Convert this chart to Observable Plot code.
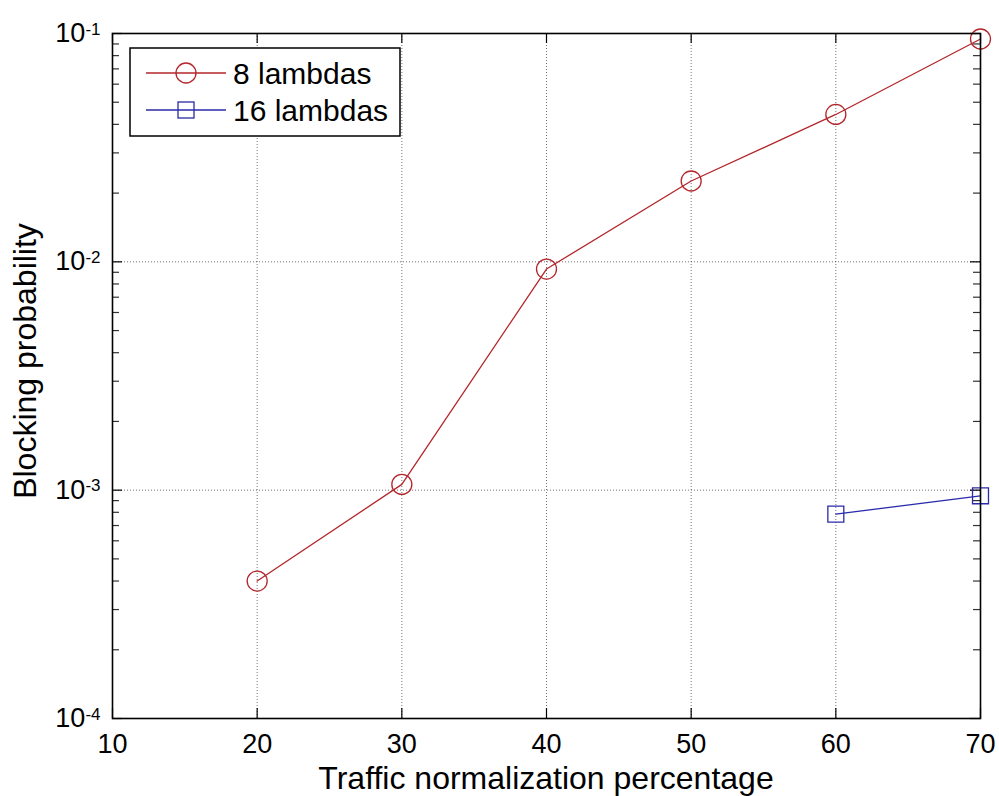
<!DOCTYPE html>
<html>
<head>
<meta charset="utf-8">
<script src="https://cdn.jsdelivr.net/npm/d3@7"></script>
<script src="https://cdn.jsdelivr.net/npm/@observablehq/plot@0.6"></script>
<style>
  html, body { margin: 0; padding: 0; background: #fff; }
  #wrap { position: relative; width: 999px; height: 796px; font-family: "Liberation Sans", Arial, sans-serif; }
</style>
</head>
<body>
<div id="wrap"></div>
<script>
// ---- data ----
const traffic8 = [20, 30, 40, 50, 60, 70];
const block8 = [4.0e-4, 1.06e-3, 9.3e-3, 0.0226, 0.0442, 0.0946];
const traffic16 = [60, 70];
const block16 = [7.85e-4, 9.45e-4];
const seriesNames = ["8 lambdas", "16 lambdas"];
const xTicks = [10, 20, 30, 40, 50, 60, 70];
const yTicks = [1e-4, 1e-3, 1e-2, 1e-1];
const yTickExp = ["-4", "-3", "-2", "-1"];
const xLabel = "Traffic normalization percentage";
const yLabel = "Blocking probability";

const RED = "#b3262b", BLUE = "#2a2aaa";
const W = 999, H = 796, ML = 112, MR = 19, MT = 33, MB = 78;
const PW = W - ML - MR, PH = H - MT - MB;

const minor = [];
for (let e = -4; e < -1; e++) for (let m = 2; m <= 9; m++) minor.push(m * Math.pow(10, e));

const d8 = traffic8.map((x, i) => ({x, y: block8[i]}));
const d16 = traffic16.map((x, i) => ({x, y: block16[i]}));

const plot = Plot.plot({
  width: W, height: H,
  marginLeft: ML, marginRight: MR, marginTop: MT, marginBottom: MB,
  style: {fontFamily: "Liberation Sans, Arial, sans-serif", color: "#000", background: "#fff"},
  x: {domain: [10, 70]},
  y: {type: "log", domain: [1e-4, 1e-1]},
  marks: [
    Plot.gridX(xTicks, {stroke: "#000", strokeOpacity: 0.55, strokeDasharray: "1,2", strokeWidth: 1}),
    Plot.gridY(yTicks, {stroke: "#000", strokeOpacity: 0.55, strokeDasharray: "1,2", strokeWidth: 1}),
    Plot.tickY(minor, {y: d => d, insetRight: PW - 7, stroke: "#333", strokeWidth: 1.2}),
    Plot.tickY(minor, {y: d => d, insetLeft: PW - 7, stroke: "#333", strokeWidth: 1.2}),
    Plot.tickY(yTicks, {y: d => d, insetRight: PW - 10, stroke: "#000", strokeWidth: 1.2}),
    Plot.tickY(yTicks, {y: d => d, insetLeft: PW - 10, stroke: "#000", strokeWidth: 1.2}),
    Plot.tickX(xTicks, {x: d => d, insetTop: PH - 10, stroke: "#000", strokeWidth: 1.2}),
    Plot.tickX(xTicks, {x: d => d, insetBottom: PH - 10, stroke: "#000", strokeWidth: 1.2}),
    Plot.axisX(xTicks, {tickSize: 0, tickPadding: 15, label: null}),
    Plot.axisY(yTicks, {tickSize: 0, tickPadding: 12, label: null, tickFormat: () => "10"}),
    Plot.lineY(d8, {x: "x", y: "y", stroke: RED, strokeWidth: 1.3}),
    Plot.dot(d8, {x: "x", y: "y", r: 10, stroke: RED, strokeWidth: 1.3, fill: "none"}),
    Plot.lineY(d16, {x: "x", y: "y", stroke: BLUE, strokeWidth: 1.3}),
    Plot.dot(d16, {x: "x", y: "y", r: 9, symbol: "square", stroke: BLUE, strokeWidth: 1.3, fill: "none"}),
    Plot.frame({stroke: "#000", strokeWidth: 1.6})
  ]
});

const wrap = document.getElementById("wrap");
wrap.appendChild(plot);
const svg = d3.select(plot);

// tick label sizes
svg.selectAll('g[aria-label="x-axis tick label"]').attr("font-size", "27px");
svg.selectAll('g[aria-label="y-axis tick label"]').attr("font-size", "27px");
svg.selectAll('g[aria-label="x-axis tick label"] text').attr("font-size", "27px");
svg.selectAll('g[aria-label="y-axis tick label"] text').attr("font-size", "27px").each(function(d, i) {
  d3.select(this).append("tspan").attr("dy", "-0.45em").attr("font-size", "17px").text(yTickExp[i]);
});

// axis titles
svg.append("text")
  .attr("x", ML + PW / 2).attr("y", 789)
  .attr("text-anchor", "middle")
  .attr("font-size", "32px")
  .attr("fill", "#000")
  .text(xLabel);
svg.append("text")
  .attr("transform", `translate(36,${361}) rotate(-90)`)
  .attr("text-anchor", "middle")
  .attr("font-size", "32px")
  .attr("fill", "#000")
  .text(yLabel);

// legend
const lg = svg.append("g");
lg.append("rect").attr("x", 130).attr("y", 48).attr("width", 270).attr("height", 88)
  .attr("fill", "#fff").attr("stroke", "#000").attr("stroke-width", 1.5);
const rows = [{name: seriesNames[0], color: RED, sym: "circle", y: 73},
              {name: seriesNames[1], color: BLUE, sym: "square", y: 110}];
rows.forEach(r => {
  lg.append("line").attr("x1", 146).attr("x2", 226).attr("y1", r.y).attr("y2", r.y)
    .attr("stroke", r.color).attr("stroke-width", 1.3);
  if (r.sym === "circle") {
    lg.append("circle").attr("cx", 186).attr("cy", r.y).attr("r", 10)
      .attr("fill", "none").attr("stroke", r.color).attr("stroke-width", 1.3);
  } else {
    lg.append("rect").attr("x", 178).attr("y", r.y - 8).attr("width", 16).attr("height", 16)
      .attr("fill", "none").attr("stroke", r.color).attr("stroke-width", 1.3);
  }
  lg.append("text").attr("x", 233).attr("y", r.y).attr("dy", "0.36em")
    .attr("text-anchor", "start")
    .attr("font-size", "30px").attr("fill", "#000").text(r.name);
});
</script>
</body>
</html>
